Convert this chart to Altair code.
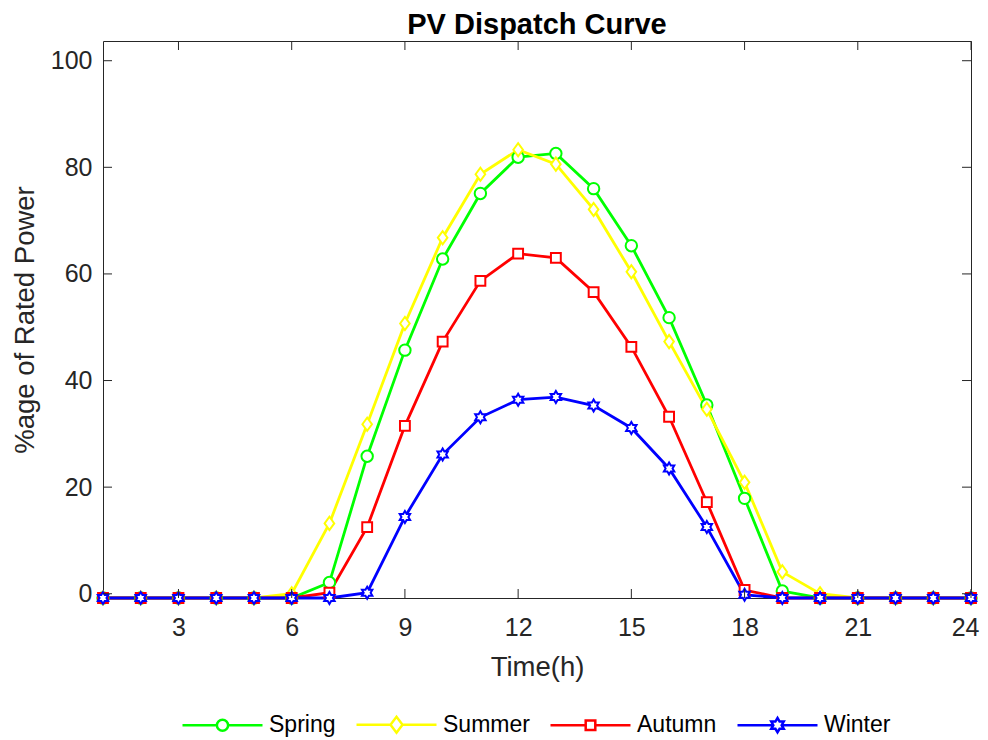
import altair as alt
import pandas as pd

# ---------------- data ----------------
hours = list(range(1, 25))
series_names = ["Spring", "Summer", "Autumn", "Winter"]
series_colors = ["#00ff00", "#ffff00", "#ff0000", "#0000ff"]

spring = [-0.8] * 6 + [2.1, 25.8, 45.7, 62.8, 75.1, 81.9, 82.6, 76.0, 65.3, 51.8, 35.4, 17.9, 0.5] + [-0.8] * 5
summer = [-0.8] * 5 + [0.0, 13.2, 31.8, 50.7, 66.8, 78.7, 83.3, 80.6, 72.1, 60.4, 47.3, 34.6, 20.9, 4.1, 0.0] + [-0.8] * 4
autumn = [-0.8] * 6 + [0.2, 12.5, 31.5, 47.3, 58.7, 63.8, 63.0, 56.6, 46.3, 33.2, 17.2, 0.7] + [-0.8] * 6
winter = [-0.8] * 7 + [0.2, 14.4, 26.1, 33.1, 36.4, 36.9, 35.3, 31.1, 23.5, 12.5, -0.2] + [-0.8] * 6

x_ticks = [3, 6, 9, 12, 15, 18, 21, 24]
y_ticks = [0, 20, 40, 60, 80, 100]

rows = []
for name, vals in zip(series_names, [spring, summer, autumn, winter]):
    for h, v in zip(hours, vals):
        rows.append({"hour": h, "value": v, "series": name})
df = pd.DataFrame(rows)
xt = pd.DataFrame({"hour": x_ticks})
yt = pd.DataFrame({"value": y_ticks})

# ---------------- styling ----------------
FONT = "Liberation Sans"
AX = "#262626"
W, H = 868, 557
TICK = 9


def hexagram(r):
    import math
    pts = []
    for i in range(12):
        ang = math.radians(-90 + 30 * i)
        rr = r if i % 2 == 0 else r / math.sqrt(3)
        pts.append((rr * math.cos(ang), rr * math.sin(ang)))
    return "M" + "L".join(f"{x:.3f},{y:.3f}" for x, y in pts) + "Z"


def circle(r):
    return f"M{r},0A{r},{r},0,1,1,{-r},0A{r},{r},0,1,1,{r},0Z"


def diamond(w, h):
    return f"M{-w},0L0,{-h}L{w},0L0,{h}Z"


def square(s):
    return f"M{-s},{-s}L{s},{-s}L{s},{s}L{-s},{s}Z"


def with_line(marker, gap):
    return f"M-1,0L{-gap},0M{gap},0L1,0" + marker


plot_shapes = [circle(0.95), diamond(0.8, 1.1), square(0.82), hexagram(1.0)]
legend_shapes = [
    with_line(circle(0.14), 0.14),
    with_line(diamond(0.15, 0.2), 0.15),
    with_line(square(0.12), 0.12),
    with_line(hexagram(0.18), 0.104),
]
sym_expr = " : ".join(
    f"datum.value === '{n}' ? '{p}'" for n, p in zip(series_names[:-1], legend_shapes[:-1])
) + f" : '{legend_shapes[-1]}'"

xscale = alt.Scale(domain=[1, 24], nice=False, zero=False)
yscale = alt.Scale(domain=[-0.8, 103.7], nice=False, zero=False)

xaxis = alt.Axis(values=x_ticks, title="Time(h)", ticks=False, domain=False, grid=False,
                 labelFontSize=25, labelPadding=17, labelFont=FONT, labelColor=AX,
                 titleFont=FONT, titleFontSize=27.5, titleFontWeight="normal", titleColor=AX,
                 titleY=77, titleBaseline="alphabetic", format="d",
                 labelFlush=True, labelFlushOffset=8)
yaxis = alt.Axis(values=y_ticks, title="%age of Rated Power", ticks=False, domain=False, grid=False,
                 labelFontSize=25, labelPadding=11, labelFont=FONT, labelColor=AX,
                 titleFont=FONT, titleFontSize=27.5, titleFontWeight="normal", titleColor=AX,
                 titleX=-70, titleY=H / 2, titleBaseline="alphabetic", format="d", labelFlush=False)

X = alt.X("hour:Q", scale=xscale, axis=xaxis)
Y = alt.Y("value:Q", scale=yscale, axis=yaxis)

color_scale = alt.Scale(domain=series_names, range=series_colors)

lines = alt.Chart(df).mark_line(strokeWidth=2.8).encode(
    x=X, y=Y,
    color=alt.Color("series:N", scale=color_scale, sort=series_names,
                    legend=alt.Legend(
                        orient="none", legendX=78, legendY=642, direction="horizontal",
                        title=None, symbolSize=6400, symbolStrokeWidth=2.5,
                        symbolType=alt.ExprRef(expr=sym_expr), symbolFillColor="white",
                        symbolOpacity=1,
                        labelFont=FONT, labelFontSize=23, labelColor="black",
                        labelOffset=5, columnPadding=15, padding=0)),
)

point_layers = []
for name, col, shp in zip(series_names, series_colors, plot_shapes):
    point_layers.append(
        alt.Chart(df).transform_filter(alt.datum.series == name)
        .mark_point(filled=False, fill="white", stroke=col, shape=shp, strokeWidth=2, opacity=1, size=144)
        .encode(x=X, y=Y)
    )

bottom_ticks = alt.Chart(xt).mark_rule(color=AX, strokeWidth=1).encode(
    x=X, y=alt.value(H), y2=alt.value(H - TICK))
top_ticks = alt.Chart(xt).mark_rule(color=AX, strokeWidth=1).encode(
    x=X, y=alt.value(0), y2=alt.value(TICK))
left_ticks = alt.Chart(yt).mark_rule(color=AX, strokeWidth=1).encode(
    y=Y, x=alt.value(0), x2=alt.value(TICK))
right_ticks = alt.Chart(yt).mark_rule(color=AX, strokeWidth=1).encode(
    y=Y, x=alt.value(W), x2=alt.value(W - TICK))

chart = alt.layer(lines, *point_layers, bottom_ticks, top_ticks, left_ticks, right_ticks).properties(
    width=W, height=H,
    title=alt.TitleParams("PV Dispatch Curve", fontSize=29, fontWeight="bold", font=FONT,
                          color="black", anchor="middle", offset=1),
    autosize=alt.AutoSizeParams(type="none"),
    padding={"left": 95, "top": 33, "right": 9, "bottom": 140},
    background="white",
).configure_view(stroke=AX, strokeWidth=1)

chart.save("out.html", embed_options={"renderer": "svg", "actions": False})
